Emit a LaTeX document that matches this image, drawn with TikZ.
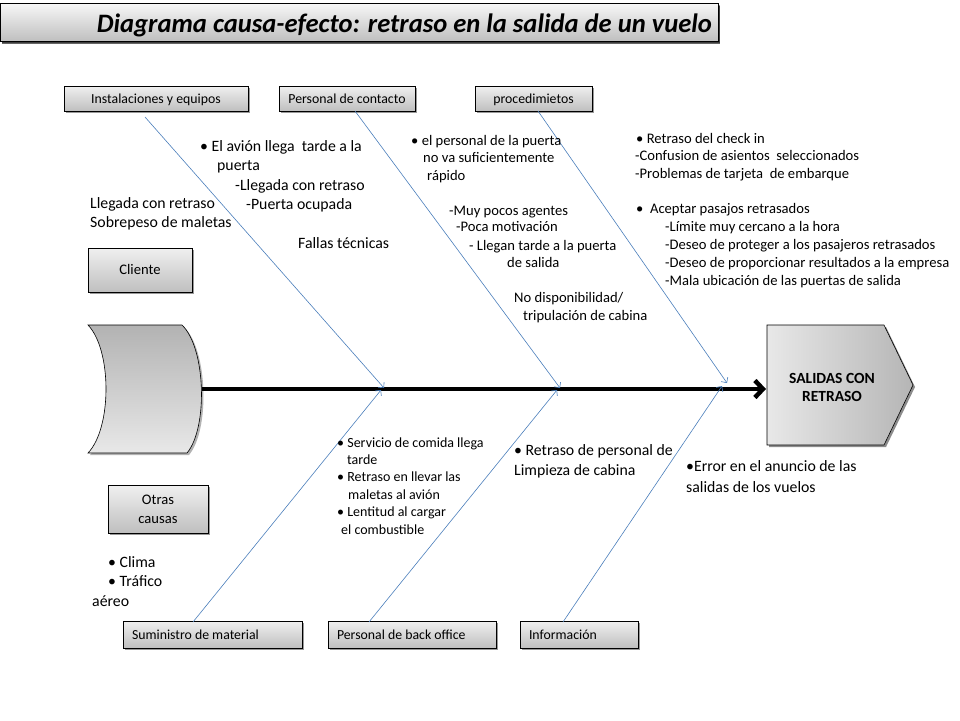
\documentclass[tikz,border=0pt]{standalone}
\usepackage{fontspec}
\setmainfont{Carlito}
\usetikzlibrary{arrows.meta,shadows,calc}
\definecolor{fishblue}{HTML}{4A7EBB}
\newcommand\fszA{\fontsize{15.8}{18}\selectfont}
\newcommand\fszB{\fontsize{14.6}{17}\selectfont}
\newcommand\fszD{\fontsize{14}{17}\selectfont}
\newcommand\fszC{\fontsize{13.8}{16}\selectfont}
\newcommand\mytxt[4]{\node[lbl] (#1) at (#2,#3) {#4};}
\tikzset{
  box/.style={draw=black, line width=0.6pt, top color=gray!12, bottom color=gray!50,
    drop shadow={shadow xshift=2pt, shadow yshift=-2pt, fill=black, opacity=0.4},
    inner sep=0pt, font=\fszC, text height=11pt, text depth=2pt},
  lbl/.style={inner sep=0pt, anchor=base west},
  bone/.style={draw=fishblue, line width=0.6pt, -{Straight Barb[length=4pt,width=8pt]}},
  spine/.style={draw=black, line width=4.5pt, -{Straight Barb[length=8pt,width=17pt]}},
}
\begin{document}
\begin{tikzpicture}[x=1pt,y=-1pt]
\useasboundingbox (0,0) rectangle (960,720);
% title
\node[box, top color=gray!6, bottom color=gray!50, minimum width=718pt, minimum height=38pt,
  text width=706pt, align=flush right, font=\fontsize{26.6}{29}\selectfont\bfseries\itshape,
  text height=24pt, text depth=3pt,
  drop shadow={shadow xshift=2pt, shadow yshift=-3pt, fill=black, opacity=0.6}]
  (title) at (359,22) {Diagrama causa-efecto: retraso en la salida de un vuelo};
% category boxes
\node[box, minimum width=184pt, minimum height=25pt] (inst) at (156,98.5) {Instalaciones y equipos};
\node[box, minimum width=136pt, minimum height=25pt] (pcont) at (347,98.5) {Personal de contacto};
\node[box, minimum width=117pt, minimum height=25pt] (proc) at (533.5,98.5) {procedimietos};
\node[box, minimum width=104pt, minimum height=44pt, font=\fszB] (cliente) at (140,270) {Cliente};
\node[box, minimum width=100pt, minimum height=48pt, font=\fszB, align=center, text height=, text depth=] (otras) at (158,509) {Otras\\[2pt]causas};
\node[box, minimum width=179pt, minimum height=27pt, text width=161pt, align=flush left] (sumin) at (212.5,634.5) {Suministro de material};
\node[box, minimum width=168pt, minimum height=27pt, text width=150pt, align=flush left] (pback) at (412,634.5) {Personal de back office};
\node[box, minimum width=118pt, minimum height=27pt, text width=100pt, align=flush left] (info) at (579,634.5) {Información};
% tail
\draw[line width=0.6pt, top color=gray!60, bottom color=gray!18,
  drop shadow={shadow xshift=2pt, shadow yshift=-2pt, fill=black, opacity=0.3}]
  (88,325) -- (182,325) .. controls (206,348) and (208,428) .. (187,453) -- (88,453)
  .. controls (112,428) and (112,350) .. cycle;
\coordinate (tailR) at (202,389);
% head
\draw[line width=0.6pt, left color=gray!18, right color=gray!58,
  drop shadow={shadow xshift=2pt, shadow yshift=-2pt, fill=black, opacity=0.45}]
  (767,325) -- (884,325) -- (913,385) -- (884,445) -- (767,445) -- cycle;
\node[inner sep=0pt, align=center, font=\fontsize{15.5}{18}\selectfont\bfseries] (head) at (832,387) {SALIDAS CON\\RETRASO};
\coordinate (headL) at (766,389);
% spine
\draw[spine] (tailR) -- (headL);
% bones
\coordinate (t1) at (145,117);
\coordinate (t2) at (355,111);
\coordinate (t3) at (538,111);
\coordinate (b1) at (193,622);
\coordinate (b2) at (369,622);
\coordinate (b3) at (563,622);
\coordinate (j1t) at (384,388);
\coordinate (j2t) at (560,388);
\coordinate (j3t) at (727,383);
\coordinate (j1b) at (381,390);
\coordinate (j2b) at (557,390);
\coordinate (j3b) at (722,386);
\draw[bone] (t1) -- (j1t);
\draw[bone] (t2) -- (j2t);
\draw[bone] (t3) -- (j3t);
\draw[bone] (b1) -- (j1b);
\draw[bone] (b2) -- (j2b);
\draw[bone] (b3) -- (j3b);
% texts A
\begin{scope}[font=\fszA]
\mytxt{a1}{200}{151}{• El avión llega\ \ tarde a la}
\mytxt{a2}{217}{170}{puerta}
\mytxt{a3}{235}{190}{-Llegada con retraso}
\mytxt{a4}{246}{209}{-Puerta ocupada}
\mytxt{a5}{90}{208}{Llegada con retraso}
\mytxt{a6}{90}{227}{Sobrepeso de maletas}
\mytxt{a7}{298}{248}{Fallas técnicas}
\mytxt{e1}{514}{455}{• Retraso de personal de}
\mytxt{e2}{514}{475}{Limpieza de cabina}
\mytxt{e3}{686}{471}{•Error en el anuncio de las}
\mytxt{e4}{686}{492}{salidas de los vuelos}
\mytxt{e5}{108}{567}{• Clima}
\mytxt{e6}{108}{586}{• Tráfico}
\mytxt{e7}{92}{606}{aéreo}
\end{scope}
\begin{scope}[font=\fszB]
\mytxt{b1t}{411}{145}{• el personal de la puerta}
\mytxt{b2t}{423}{162}{no va suficientemente}
\mytxt{b3t}{427}{180}{rápido}
\mytxt{b4t}{449}{215}{-Muy pocos agentes}
\mytxt{b5t}{456}{231}{-Poca motivación}
\mytxt{b6t}{469}{250}{- Llegan tarde a la puerta}
\mytxt{b7t}{507}{267}{de salida}
\mytxt{b8t}{514}{302}{No disponibilidad/}
\mytxt{b9t}{523}{320}{tripulación de cabina}
\mytxt{c1}{636}{143}{• Retraso del check in}
\mytxt{c2}{635}{160}{-Confusion de asientos\ \ seleccionados}
\mytxt{c3}{635}{178}{-Problemas de tarjeta\ \ de embarque}
\mytxt{c4}{636}{213}{•\ \ Aceptar pasajos retrasados}
\mytxt{c5}{665}{231}{-Límite muy cercano a la hora}
\mytxt{c6}{665}{249}{-Deseo de proteger a los pasajeros retrasados}
\mytxt{c7}{665}{267}{-Deseo de proporcionar resultados a la empresa}
\mytxt{c8}{665}{285}{-Mala ubicación de las puertas de salida}
\end{scope}
\begin{scope}[font=\fszD]
\mytxt{d1}{337}{447}{• Servicio de comida llega}
\mytxt{d2}{347}{464}{tarde}
\mytxt{d3}{337}{481}{• Retraso en llevar las}
\mytxt{d4}{348}{499}{maletas al avión}
\mytxt{d5}{337}{516}{• Lentitud al cargar}
\mytxt{d6}{341}{534}{el combustible}
\end{scope}
\end{tikzpicture}
\end{document}
